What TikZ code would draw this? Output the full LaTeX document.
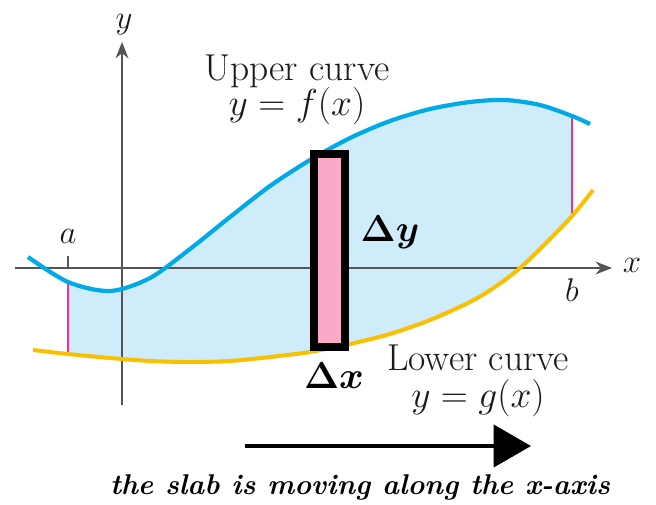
\documentclass[tikz,border=0pt]{standalone}
\usepackage{fix-cm}
\usepackage{amsmath,amssymb}
\usepackage{tikz}
\usepackage{xcolor}
\usetikzlibrary{arrows.meta}

\definecolor{uppercol}{RGB}{0,170,230}
\definecolor{lowercol}{RGB}{250,192,0}
\definecolor{areacol}{RGB}{206,236,249}
\definecolor{edgecol}{RGB}{230,50,160}
\definecolor{slabcol}{RGB}{250,170,200}
\definecolor{axiscol}{RGB}{85,85,85}
\definecolor{textcol}{RGB}{30,25,20}

\begin{document}
\begin{tikzpicture}[x=0.03cm, y=-0.03cm, >=latex,
  axisline/.style={axiscol, line width=1.3pt, -{Stealth[length=14pt,width=11pt]}},
  bigtext/.style={textcol, inner sep=0pt, font=\fontsize{32}{36}\selectfont},
  letter/.style={textcol, inner sep=1pt, font=\fontsize{28}{32}\selectfont}]
\useasboundingbox (0,0) rectangle (656,504);

% shaded area between the curves
\begin{scope}
\clip (68,0) rectangle (572,504);
\fill[areacol] plot[smooth] coordinates {(28,257) (68,282) (110,291) (150,278) (190,249) (230,217) (270,186) (310,160) (350,138) (390,121) (430,109) (470,102) (505,100) (540,105) (572,116) (590,124)}
  -- plot[smooth] coordinates {(593,190) (572,216) (546,243) (520,268) (495,287) (470,302) (430,320) (390,334) (350,344) (310,352) (270,357) (230,361) (190,362) (150,361) (110,358) (68,354) (33,350)} -- cycle;
\end{scope}

% axes
\coordinate (xstart) at (15,268);
\coordinate (xend) at (612,268);
\coordinate (ystart) at (122,405);
\coordinate (yend) at (122,42);
\draw[axisline] (xstart) -- (xend);
\draw[axisline] (ystart) -- (yend);
\node[letter] (xlab) at (632,265) {$x$};
\node[letter] (ylab) at (124,25) {$y$};

% end points a and b
\coordinate (atick) at (68,256);
\coordinate (aaxis) at (68,268);
\draw[axiscol, line width=1.3pt] (aaxis) -- (atick);
\node[letter] (alab) at (68,236) {$a$};
\node[letter] (blab) at (572,290) {$b$};

\coordinate (aup) at (68,282);
\coordinate (alow) at (68,354);
\coordinate (bup) at (572,116);
\coordinate (blow) at (572,216);
\draw[edgecol, line width=1.4pt] (aup) -- (alow);
\draw[edgecol, line width=1.4pt] (bup) -- (blow);

% curves
\draw[uppercol, line width=3.6pt] plot[smooth] coordinates {(28,257) (68,282) (110,291) (150,278) (190,249) (230,217) (270,186) (310,160) (350,138) (390,121) (430,109) (470,102) (505,100) (540,105) (572,116) (590,124)};
\draw[lowercol, line width=3.4pt] plot[smooth] coordinates {(33,350) (68,354) (110,358) (150,361) (190,362) (230,361) (270,357) (310,352) (350,344) (390,334) (430,320) (470,302) (495,287) (520,268) (546,243) (572,216) (593,190)};

% the slab
\draw[black, line width=6pt, fill=slabcol] (314,154) rectangle (345,347);
\node[font=\fontsize{32}{36}\selectfont] (dy) at (390,232) {$\boldsymbol{\Delta y}$};
\node[font=\fontsize{32}{36}\selectfont] (dx) at (334,376) {$\boldsymbol{\Delta x}$};

% curve names
\node[bigtext] (uppername) at (297,71) {Upper curve};
\node[bigtext] (upperfun) at (297,106) {$y = f(x)$};
\node[bigtext] (lowername) at (478,358) {Lower curve};
\node[bigtext] (lowerfun) at (478,398) {$y = g(x)$};

% moving direction
\coordinate (movestart) at (245,446);
\coordinate (moveend) at (531,446);
\draw[black, line width=3.4pt, -{Triangle[length=32pt,width=36pt]}] (movestart) -- (moveend);
\node[font=\fontsize{24.4}{28}\selectfont\bfseries\itshape] (movetext) at (360,487) {the slab is moving along the x-axis};
\end{tikzpicture}
\end{document}
